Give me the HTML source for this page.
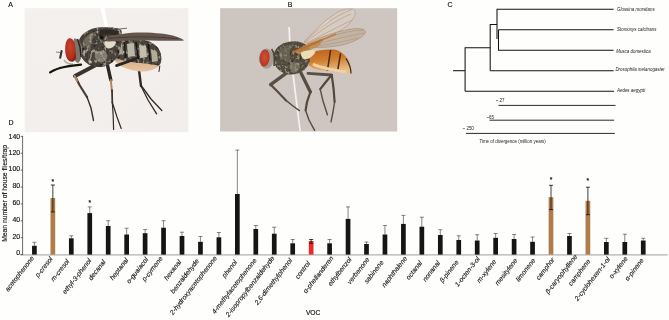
<!DOCTYPE html>
<html><head><meta charset="utf-8"><title>Figure</title>
<style>
html,body{margin:0;padding:0;background:#fefefd;}
body{width:669px;height:320px;overflow:hidden;position:relative;font-family:"Liberation Sans", sans-serif;}
</style></head><body>
<svg width="669" height="320" viewBox="0 0 669 320" style="position:absolute;left:0;top:0;font-family:'Liberation Sans',sans-serif">
<defs>
<filter id="b1" x="-10%" y="-10%" width="120%" height="120%"><feGaussianBlur stdDeviation="0.55"/></filter>
<filter id="b2" x="-10%" y="-10%" width="120%" height="120%"><feGaussianBlur stdDeviation="0.9"/></filter>
<filter id="b3" x="-10%" y="-10%" width="120%" height="120%"><feGaussianBlur stdDeviation="0.3"/></filter>
<clipPath id="cA"><rect x="24.7" y="8.2" width="163.6" height="124"/></clipPath>
<clipPath id="cB"><rect x="220.1" y="8.2" width="177.1" height="123.3"/></clipPath>
<linearGradient id="gA" x1="0" y1="0" x2="1" y2="1"><stop offset="0" stop-color="#f3f0ee"/><stop offset="1" stop-color="#f1eeec"/></linearGradient>
<linearGradient id="gB" x1="0" y1="0" x2="1" y2="0"><stop offset="0" stop-color="#cdc5c0"/><stop offset="1" stop-color="#cfc6c2"/></linearGradient>
<linearGradient id="gAbdA" x1="0" y1="0" x2="0" y2="1"><stop offset="0" stop-color="#3b3832"/><stop offset="0.55" stop-color="#6d675c"/><stop offset="0.68" stop-color="#d9b48e"/><stop offset="1" stop-color="#e7c39f"/></linearGradient>
<linearGradient id="gAbdB" x1="0" y1="0" x2="0.25" y2="1"><stop offset="0" stop-color="#b9601f"/><stop offset="0.5" stop-color="#d07f2f"/><stop offset="1" stop-color="#e9c088"/></linearGradient>
<radialGradient id="gEyeA" cx="0.45" cy="0.4" r="0.7"><stop offset="0" stop-color="#c8432d"/><stop offset="0.65" stop-color="#b2301e"/><stop offset="1" stop-color="#741a11"/></radialGradient>
<radialGradient id="gEyeB" cx="0.5" cy="0.45" r="0.7"><stop offset="0" stop-color="#cf5336"/><stop offset="0.7" stop-color="#b83823"/><stop offset="1" stop-color="#842617"/></radialGradient>
<filter id="texA" x="-5%" y="-5%" width="110%" height="110%">
 <feTurbulence type="fractalNoise" baseFrequency="0.28 0.22" numOctaves="2" seed="7" result="n"/>
 <feColorMatrix in="n" type="matrix" values="0 0 0 0 0  0 0 0 0 0  0 0 0 0 0  3.6 0 0 0 -1.95" result="a"/>
 <feFlood flood-color="#c4bdac" result="f"/>
 <feComposite in="f" in2="a" operator="in" result="sp"/>
 <feComposite in="sp" in2="SourceAlpha" operator="in" result="sp2"/>
 <feColorMatrix in="n" type="matrix" values="0 0 0 0 0  0 0 0 0 0  0 0 0 0 0  0 -3.6 0 0 1.6" result="a2"/>
 <feFlood flood-color="#1a1714" result="f2"/>
 <feComposite in="f2" in2="a2" operator="in" result="dk"/>
 <feComposite in="dk" in2="SourceAlpha" operator="in" result="dk2"/>
 <feMerge><feMergeNode in="SourceGraphic"/><feMergeNode in="sp2"/><feMergeNode in="dk2"/></feMerge>
</filter>
<filter id="texB" x="-5%" y="-5%" width="110%" height="110%">
 <feTurbulence type="fractalNoise" baseFrequency="0.4 0.35" numOctaves="2" seed="11" result="n"/>
 <feColorMatrix in="n" type="matrix" values="0 0 0 0 0  0 0 0 0 0  0 0 0 0 0  3.4 0 0 0 -1.85" result="a"/>
 <feFlood flood-color="#aaa38c" result="f"/>
 <feComposite in="f" in2="a" operator="in" result="sp"/>
 <feComposite in="sp" in2="SourceAlpha" operator="in" result="sp2"/>
 <feColorMatrix in="n" type="matrix" values="0 0 0 0 0  0 0 0 0 0  0 0 0 0 0  0 -3.4 0 0 1.5" result="a2"/>
 <feFlood flood-color="#2a261e" result="f2"/>
 <feComposite in="f2" in2="a2" operator="in" result="dk"/>
 <feComposite in="dk" in2="SourceAlpha" operator="in" result="dk2"/>
 <feMerge><feMergeNode in="SourceGraphic"/><feMergeNode in="sp2"/><feMergeNode in="dk2"/></feMerge>
</filter>
</defs>
<!-- ============ PHOTO A ============ -->
<rect x="24.7" y="8.2" width="163.6" height="124" fill="url(#gA)"/>
<g clip-path="url(#cA)">
 <!-- pin -->
 <path d="M100.6 8L104.4 8L108.3 27L104.8 27Z" fill="#ffffff" filter="url(#b3)"/>
 <g filter="url(#b1)">
 <!-- legs A -->
 <g fill="none" stroke-linecap="round" stroke-linejoin="round">
  <!-- front leg -->
  <path d="M95 65.5L75 76" stroke="#3a332d" stroke-width="4"/>
  <path d="M75 76L79.5 85L87 97" stroke="#4a3c30" stroke-width="2.2"/>
  <path d="M74.6 76L77 81" stroke="#b98760" stroke-width="2"/>
  <path d="M87 97L91 108L93.5 120.5" stroke="#3a302a" stroke-width="1.4"/>
  <!-- middle leg -->
  <path d="M107 63L110.8 80" stroke="#2c2723" stroke-width="3.4"/>
  <path d="M110.8 80L112 92" stroke="#b8845a" stroke-width="2"/>
  <path d="M112 90L112.3 103" stroke="#3a302a" stroke-width="1.7"/>
  <path d="M112.3 102L113.2 116L113.6 129.5" stroke="#332b26" stroke-width="1.2"/>
  <path d="M112.5 103L117 117L121.2 128.5" stroke="#332b26" stroke-width="1.2"/>
  <!-- hind leg -->
  <path d="M137.5 60L139.5 74L141 86" stroke="#2f2925" stroke-width="2.4"/>
  <path d="M141 86L148 100L156.6 113.8" stroke="#332b26" stroke-width="1.3"/>
  <path d="M141.5 86L151 99L161.8 110.5" stroke="#332b26" stroke-width="1.3"/>
  <path d="M159.8 66L159 71.5" stroke="#3a302a" stroke-width="1.1"/>
 </g>
 <!-- abdomen -->
 <path d="M114 40C125 38 146 39 152 43C158.5 46.5 162 53 161.2 61C160.5 66 157 68.5 150 70.6C142 72.5 133 71 124 67.5C117 65 113 60 112 52Z" fill="url(#gAbdA)"/>
 <g filter="url(#texA)"><path d="M114 40C125 38 146 39 152 43C158.5 46.5 162 53 161.2 61C160.9 63 160 64.6 158.6 65.6C150 64 140 63 131 62C124 61 117 59 112.4 56L112 52Z" fill="#4a453e"/></g>
 <!-- abdomen pale patches -->
 <path d="M127 44L134 43L135 56L128 57Z" fill="#bdb7a8"/>
 <path d="M139 45L146 46L147 57L140 58Z" fill="#c4bdac"/>
 <path d="M151 49L157 52L158 61L152 62Z" fill="#b3ab98"/>
 <path d="M116 44L122 43L123 54L117 55Z" fill="#a8a294"/>
 <path d="M136 42L138.2 59" stroke="#15130f" stroke-width="1.5" fill="none"/>
 <path d="M148.5 44L150 61" stroke="#15130f" stroke-width="1.4" fill="none"/>
 <path d="M124.5 42L125.5 58" stroke="#1c1915" stroke-width="1.4" fill="none"/>
 <path d="M116.5 65.6L136 58.8" stroke="#2a2521" stroke-width="2.8" stroke-linecap="round" fill="none"/>
 <!-- thorax -->
 <g filter="url(#texA)"><path d="M79 40C82 33 90 28.4 98 27.6C107 26.8 118 27.5 121 30C123 33 122 42 120 50C118 58 113 64 104 66.5C95 68.5 86 65 82 58C78.5 52 77.5 45 79 40Z" fill="#48423a"/></g>
 <path d="M83 41C86 36 91 32.5 96 31.5C93 37 90 44 90.5 51C87 49 84 45 83 41Z" fill="#8d877a" fill-opacity="0.55"/>
 <path d="M95 53C98.5 50 104 50.5 107 54C108.5 57.5 105.5 62 101 62.5C97 62 93.5 57.5 95 53Z" fill="#aaa395" fill-opacity="0.6"/>
 <path d="M104.5 41.5C108 40 114 40.5 116 42C115.5 46 112 48.5 108 48.5C105.5 47.5 104 45 104.5 41.5Z" fill="#e2dccb"/>
 <path d="M100 30C106 29 114 29.5 119 31L118 36C112 34 105 34 99 36Z" fill="#2e2a25"/>
 <ellipse cx="101.5" cy="37.5" rx="2.2" ry="2.2" fill="#191613"/>
 <!-- wing -->
 <path d="M106 37.5C115 34.5 130 32.4 143 32.6C155 32.8 168 34 176 36.4C180 37.6 183 39 184 40.4C178 40.9 160 40.6 143 40.4C128 40.3 114 41 106.5 41.5Z" fill="#65574d"/>
 <path d="M108 38.6C125 36.5 150 36.2 178 38.6" stroke="#3e342d" stroke-width="0.8" fill="none"/>
 <path d="M110 30L127 28.2" stroke="#3b342f" stroke-width="0.7" fill="none"/>
 <!-- head -->
 <path d="M74 38.5C78 38 81 42 82 49C82.5 55 81 61 78 63C75 62 73 58 73 50Z" fill="#7c756b"/>
 <path d="M77.5 39L80 47L81 57" stroke="#27231f" stroke-width="1.4" fill="none"/>
 <!-- eye -->
 <path d="M68.5 38.6C72 37 75 41 75.2 47C75.4 51 76.2 54 76 57.5C75.8 60.5 73.4 62.2 70.5 61.6C67 60.6 65 55 65.2 49C65.3 44 66.3 40 68.5 38.6Z" fill="url(#gEyeA)"/>
 <!-- antenna & face -->
 <path d="M61.6 51L60.2 57.8" stroke="#3a342f" stroke-width="2.1" stroke-linecap="round" fill="none"/>
 <path d="M56 52L61 52.6" stroke="#5a524a" stroke-width="0.7" fill="none"/>
 <path d="M64 60C66 63 69 64.5 73 64" stroke="#b7afa4" stroke-width="1.6" fill="none"/>
 <!-- proboscis -->
 <path d="M81 64.6C74 65.4 66 66.2 60 68C55 69.6 52 71 50.2 72.4" stroke="#15120f" stroke-width="2.3" stroke-linecap="round" fill="none"/>
 </g>
</g>
<!-- ============ PHOTO B ============ -->
<rect x="220.1" y="8.2" width="177.1" height="123.3" fill="url(#gB)"/>
<g clip-path="url(#cB)">
 <!-- pin -->
 <path d="M288.3 27L290 27L290.6 42L288.9 42Z" fill="#f7f4f0" filter="url(#b3)"/>
 <path d="M292 73L293.8 73L301 131.5L299.3 131.5Z" fill="#f4f1ee" filter="url(#b3)"/>
 <g filter="url(#b1)">
 <!-- wings -->
 <path d="M304 42C312 33 326 19 338 12C345 8.6 351 8 354 9.6C356.6 12 355 17 350 23C343 30 328 38 310 44Z" fill="#d7cdc5" fill-opacity="0.8" stroke="#b79676" stroke-width="0.6"/>
 <path d="M308 43.5C322 36 342 29.6 356 28.6C362 28.4 366 30 365.6 32.4C364 37 354 42 342 45C330 47.6 316 48 308 47Z" fill="#bfb1a4" fill-opacity="0.9" stroke="#a88a6c" stroke-width="0.6"/>
 <path d="M318 30C322 26 326 22.6 329 20.4" stroke="#f2ece6" stroke-width="1" fill="none"/>
 <g fill="none" stroke="#b98d5e" stroke-width="0.55">
  <path d="M304 42C316 31 332 17 352 9.4"/>
  <path d="M305 42.6C320 31 336 20 351 14"/>
  <path d="M307 43C322 35 340 26 352 20"/>
  <path d="M308 44.6C326 37 346 30.6 364 30"/>
  <path d="M310 45.6C328 41 348 36 364 33"/>
  <path d="M312 46.6C328 45 346 41 358 38"/>
 </g>
 <path d="M294 52.4C306 47 322 40 336 34" stroke="#c47a35" stroke-width="1.5" fill="none"/>
 <!-- legs B -->
 <g fill="none" stroke-linecap="round" stroke-linejoin="round">
  <path d="M287 72.6L270.6 84.6" stroke="#5a5046" stroke-width="3.4"/>
  <path d="M270.6 84.6L277 91L286 100.4" stroke="#5a4c40" stroke-width="2.2"/>
  <path d="M286 100.4L293 106L299.4 110.6" stroke="#55483c" stroke-width="1.4"/>
  <path d="M301 73L310.4 92" stroke="#574d43" stroke-width="3.3"/>
  <path d="M310.4 92L307 102L305.6 110.4" stroke="#54473b" stroke-width="2.2"/>
  <path d="M305.6 110.4L309 120L314.6 130.4" stroke="#55483c" stroke-width="1.4"/>
  <path d="M308 73.4L331.6 75" stroke="#5a5046" stroke-width="2.9"/>
  <path d="M331.6 75L325 83L320.2 89.2" stroke="#54473b" stroke-width="2.2"/>
  <path d="M320.2 89.2L323 101L327.4 114.8" stroke="#5a4c40" stroke-width="1.4"/>
  <path d="M331.8 75.4L333.6 89L334.6 102" stroke="#54473b" stroke-width="2.2"/>
  <path d="M334.6 102L333 112L331 121.8" stroke="#5a4c40" stroke-width="1.4"/>
 </g>
 <!-- abdomen -->
 <path d="M309 53C316 50.4 327 49 334 49.6C341 50.6 346.4 56 349.6 63C351.4 67 352 71 351 73.8C346 73.6 338 72 330 71.4C321 70.8 313 69 309 65.4C306.6 62 307 56.4 309 53Z" fill="url(#gAbdB)"/>
 <path d="M330.6 50L327.4 70.6" stroke="#4a2a14" stroke-width="1.5" fill="none"/>
 <path d="M340.6 53.4L337.4 72" stroke="#4a2a14" stroke-width="1.5" fill="none"/>
 <path d="M346 58.4C349 63 351 69 351 73.6" stroke="#3e2a1a" stroke-width="1.2" fill="none"/>
 <path d="M313 64C320 68 334 70 346 72" stroke="#efd3a6" stroke-width="2.6" fill="none"/>
 <!-- thorax -->
 <g filter="url(#texB)"><path d="M274 53C276 46.6 283 42 291 41.4C298 41 305 43 308.6 47C311 51 311 58 308.6 64C306 70 299 74.4 291 74.6C283.6 74.6 277 70 274.6 64C273 60 273 56 274 53Z" fill="#524c3f"/></g>
 <path d="M278 52C281 47 287 44.4 293 44.6C290 50 289 57 290.6 63C285 62 279.6 58 278 52Z" fill="#7f796a" fill-opacity="0.45"/>
 <path d="M290 64C293 61 298 62 299.6 65C300.4 69 297 73 293 73C290 71.6 289 67 290 64Z" fill="#9a9482" fill-opacity="0.55"/>
 <path d="M295 51C300 47.4 308 43.6 316 41.6C320 41.4 322 43 320 45C314 48.6 306 52 299 54.4Z" fill="#c08a4e" fill-opacity="0.85"/>
 <path d="M300.8 52.8C305 50.2 311.6 49.4 315.6 50.6C315 55 310.4 58.8 304.6 59.6C302 58 300.6 55.4 300.8 52.8Z" fill="#eddcb4"/>
 <path d="M292.6 52.6C300 49.4 310 45 322 40" stroke="#bd6f2c" stroke-width="1.9" fill="none" stroke-linecap="round"/>
 <!-- head -->
 <ellipse cx="266.4" cy="58.6" rx="7.4" ry="10.2" fill="#a49c92"/>
 <path d="M271.6 49C274 52 275 58 274 66" stroke="#4a443c" stroke-width="1.6" fill="none"/>
 <ellipse cx="264.6" cy="58" rx="5" ry="8.6" fill="url(#gEyeB)" transform="rotate(6 264.6 58)"/>
 <path d="M259.4 63C260 67 263 69.6 267 70" stroke="#cfc8be" stroke-width="1.5" fill="none"/>
 </g>
</g>

<g opacity="0.995">
<path d="M20.2 254.85H667.8" stroke="#b2b2b2" stroke-width="1.1" fill="none"/>
<g stroke="#2a2a2a" stroke-width="0.7" fill="none">
<path d="M22.6 136.0V254.9"/>
<path d="M20.700000000000003 254.60H22.6"/>
<path d="M20.700000000000003 237.71H22.6"/>
<path d="M20.700000000000003 220.82H22.6"/>
<path d="M20.700000000000003 203.93H22.6"/>
<path d="M20.700000000000003 187.04H22.6"/>
<path d="M20.700000000000003 170.15H22.6"/>
<path d="M20.700000000000003 153.26H22.6"/>
<path d="M20.700000000000003 136.37H22.6"/>
</g>
<g font-size="6.9" fill="#111" stroke="#111" stroke-width="0.15" text-anchor="end">
<text x="20.1" y="254.75">0</text>
<text x="20.1" y="238.95">20</text>
<text x="20.1" y="222.05">40</text>
<text x="20.1" y="204.95">60</text>
<text x="20.1" y="188.05">80</text>
<text x="20.1" y="171.15">100</text>
<text x="20.1" y="155.15">120</text>
<text x="20.1" y="138.95">140</text>
</g>
<text transform="translate(6.5 193.4) rotate(-90)" font-size="6.75" fill="#111" stroke="#111" stroke-width="0.15" text-anchor="middle">Mean number of house flies/trap</text>
<path d="M34.40 245.80V242.30M32.40 242.30H36.40" stroke="#3a3a3a" stroke-width="0.62" fill="none"/>
<rect x="32.05" y="245.80" width="4.7" height="8.80" fill="#141414"/>
<rect x="50.50" y="198.10" width="4.7" height="56.50" fill="#b07b46"/>
<path d="M52.85 211.90V185.00M50.85 185.00H54.85M50.85 211.90H54.85" stroke="#0c0c0c" stroke-width="0.8" fill="none"/>
<text x="52.85" y="184.30" font-size="6.6" text-anchor="middle" fill="#111" stroke="#111" stroke-width="0.2">*</text>
<path d="M71.30 238.30V235.80M69.30 235.80H73.30" stroke="#3a3a3a" stroke-width="0.62" fill="none"/>
<rect x="68.95" y="238.30" width="4.7" height="16.30" fill="#141414"/>
<path d="M89.75 213.10V206.90M87.75 206.90H91.75" stroke="#3a3a3a" stroke-width="0.62" fill="none"/>
<rect x="87.40" y="213.10" width="4.7" height="41.50" fill="#141414"/>
<text x="89.75" y="205.00" font-size="6.6" text-anchor="middle" fill="#111" stroke="#111" stroke-width="0.2">*</text>
<path d="M108.20 226.00V220.70M106.20 220.70H110.20" stroke="#3a3a3a" stroke-width="0.62" fill="none"/>
<rect x="105.85" y="226.00" width="4.7" height="28.60" fill="#141414"/>
<path d="M126.65 234.50V228.20M124.65 228.20H128.65" stroke="#3a3a3a" stroke-width="0.62" fill="none"/>
<rect x="124.30" y="234.50" width="4.7" height="20.10" fill="#141414"/>
<path d="M145.10 233.20V229.50M143.10 229.50H147.10" stroke="#3a3a3a" stroke-width="0.62" fill="none"/>
<rect x="142.75" y="233.20" width="4.7" height="21.40" fill="#141414"/>
<path d="M163.55 227.70V220.70M161.55 220.70H165.55" stroke="#3a3a3a" stroke-width="0.62" fill="none"/>
<rect x="161.20" y="227.70" width="4.7" height="26.90" fill="#141414"/>
<path d="M182.00 236.00V232.20M180.00 232.20H184.00" stroke="#3a3a3a" stroke-width="0.62" fill="none"/>
<rect x="179.65" y="236.00" width="4.7" height="18.60" fill="#141414"/>
<path d="M200.45 241.80V236.50M198.45 236.50H202.45" stroke="#3a3a3a" stroke-width="0.62" fill="none"/>
<rect x="198.10" y="241.80" width="4.7" height="12.80" fill="#141414"/>
<path d="M218.90 237.30V232.50M216.90 232.50H220.90" stroke="#3a3a3a" stroke-width="0.62" fill="none"/>
<rect x="216.55" y="237.30" width="4.7" height="17.30" fill="#141414"/>
<path d="M237.35 194.00V150.10M235.35 150.10H239.35" stroke="#3a3a3a" stroke-width="0.62" fill="none"/>
<rect x="235.00" y="194.00" width="4.7" height="60.60" fill="#141414"/>
<path d="M255.80 229.00V225.50M253.80 225.50H257.80" stroke="#3a3a3a" stroke-width="0.62" fill="none"/>
<rect x="253.45" y="229.00" width="4.7" height="25.60" fill="#141414"/>
<path d="M274.25 233.70V227.20M272.25 227.20H276.25" stroke="#3a3a3a" stroke-width="0.62" fill="none"/>
<rect x="271.90" y="233.70" width="4.7" height="20.90" fill="#141414"/>
<path d="M292.70 243.30V239.50M290.70 239.50H294.70" stroke="#3a3a3a" stroke-width="0.62" fill="none"/>
<rect x="290.35" y="243.30" width="4.7" height="11.30" fill="#141414"/>
<rect x="308.80" y="241.00" width="4.7" height="13.60" fill="#e82a22"/>
<path d="M311.15 243.30V239.50M309.15 239.50H313.15M309.15 243.30H313.15" stroke="#0c0c0c" stroke-width="0.8" fill="none"/>
<path d="M329.60 243.30V239.50M327.60 239.50H331.60" stroke="#3a3a3a" stroke-width="0.62" fill="none"/>
<rect x="327.25" y="243.30" width="4.7" height="11.30" fill="#141414"/>
<path d="M348.05 218.90V206.90M346.05 206.90H350.05" stroke="#3a3a3a" stroke-width="0.62" fill="none"/>
<rect x="345.70" y="218.90" width="4.7" height="35.70" fill="#141414"/>
<path d="M366.50 244.00V242.00M364.50 242.00H368.50" stroke="#3a3a3a" stroke-width="0.62" fill="none"/>
<rect x="364.15" y="244.00" width="4.7" height="10.60" fill="#141414"/>
<path d="M384.95 234.50V225.50M382.95 225.50H386.95" stroke="#3a3a3a" stroke-width="0.62" fill="none"/>
<rect x="382.60" y="234.50" width="4.7" height="20.10" fill="#141414"/>
<path d="M403.40 223.90V215.40M401.40 215.40H405.40" stroke="#3a3a3a" stroke-width="0.62" fill="none"/>
<rect x="401.05" y="223.90" width="4.7" height="30.70" fill="#141414"/>
<path d="M421.85 226.70V217.20M419.85 217.20H423.85" stroke="#3a3a3a" stroke-width="0.62" fill="none"/>
<rect x="419.50" y="226.70" width="4.7" height="27.90" fill="#141414"/>
<path d="M440.30 235.00V229.70M438.30 229.70H442.30" stroke="#3a3a3a" stroke-width="0.62" fill="none"/>
<rect x="437.95" y="235.00" width="4.7" height="19.60" fill="#141414"/>
<path d="M458.75 240.00V235.80M456.75 235.80H460.75" stroke="#3a3a3a" stroke-width="0.62" fill="none"/>
<rect x="456.40" y="240.00" width="4.7" height="14.60" fill="#141414"/>
<path d="M477.20 240.50V234.70M475.20 234.70H479.20" stroke="#3a3a3a" stroke-width="0.62" fill="none"/>
<rect x="474.85" y="240.50" width="4.7" height="14.10" fill="#141414"/>
<path d="M495.65 237.80V233.50M493.65 233.50H497.65" stroke="#3a3a3a" stroke-width="0.62" fill="none"/>
<rect x="493.30" y="237.80" width="4.7" height="16.80" fill="#141414"/>
<path d="M514.10 239.00V234.50M512.10 234.50H516.10" stroke="#3a3a3a" stroke-width="0.62" fill="none"/>
<rect x="511.75" y="239.00" width="4.7" height="15.60" fill="#141414"/>
<path d="M532.55 241.80V237.00M530.55 237.00H534.55" stroke="#3a3a3a" stroke-width="0.62" fill="none"/>
<rect x="530.20" y="241.80" width="4.7" height="12.80" fill="#141414"/>
<rect x="548.65" y="197.20" width="4.7" height="57.40" fill="#b07b46"/>
<path d="M551.00 209.60V185.30M549.00 185.30H553.00M549.00 209.60H553.00" stroke="#0c0c0c" stroke-width="0.8" fill="none"/>
<text x="551.00" y="181.90" font-size="6.6" text-anchor="middle" fill="#111" stroke="#111" stroke-width="0.2">*</text>
<path d="M569.45 236.00V233.50M567.45 233.50H571.45" stroke="#3a3a3a" stroke-width="0.62" fill="none"/>
<rect x="567.10" y="236.00" width="4.7" height="18.60" fill="#141414"/>
<rect x="585.55" y="200.80" width="4.7" height="53.80" fill="#b07b46"/>
<path d="M587.90 214.70V187.20M585.90 187.20H589.90M585.90 214.70H589.90" stroke="#0c0c0c" stroke-width="0.8" fill="none"/>
<text x="587.90" y="183.40" font-size="6.6" text-anchor="middle" fill="#111" stroke="#111" stroke-width="0.2">*</text>
<path d="M606.35 242.00V238.30M604.35 238.30H608.35" stroke="#3a3a3a" stroke-width="0.62" fill="none"/>
<rect x="604.00" y="242.00" width="4.7" height="12.60" fill="#141414"/>
<path d="M624.80 242.00V234.20M622.80 234.20H626.80" stroke="#3a3a3a" stroke-width="0.62" fill="none"/>
<rect x="622.45" y="242.00" width="4.7" height="12.60" fill="#141414"/>
<path d="M643.25 240.50V238.30M641.25 238.30H645.25" stroke="#3a3a3a" stroke-width="0.62" fill="none"/>
<rect x="640.90" y="240.50" width="4.7" height="14.10" fill="#141414"/>
<g font-size="6.72" font-style="italic" fill="#111" stroke="#111" stroke-width="0.12" text-anchor="end">
<text transform="translate(34.40 258.40) rotate(-52)">acetophenone</text>
<text transform="translate(53.05 259.00) rotate(-52)">p-cresol</text>
<text transform="translate(69.70 261.50) rotate(-52)">m-cresol</text>
<text transform="translate(91.75 260.90) rotate(-52)">ethyl-3-phenol</text>
<text transform="translate(106.00 262.10) rotate(-52)">decanal</text>
<text transform="translate(128.75 260.30) rotate(-52)">heptanal</text>
<text transform="translate(148.60 259.60) rotate(-52)">o-guaiacol</text>
<text transform="translate(163.15 258.60) rotate(-52)">p-cymene</text>
<text transform="translate(181.70 262.10) rotate(-52)">hexanal</text>
<text transform="translate(199.35 261.10) rotate(-52)">benzaldehyde</text>
<text transform="translate(217.40 258.40) rotate(-52)">2-hydroxyacetophenone</text>
<text transform="translate(237.55 262.40) rotate(-52)">phenol</text>
<text transform="translate(257.00 260.50) rotate(-52)">4-methylacetophenone</text>
<text transform="translate(274.85 258.40) rotate(-52)">2-isopropylbenzaldehyde</text>
<text transform="translate(292.60 260.60) rotate(-52)">2,6-dimethylphenol</text>
<text transform="translate(310.55 263.60) rotate(-52)">control</text>
<text transform="translate(333.90 258.40) rotate(-52)">α-phellanderen</text>
<text transform="translate(351.95 259.60) rotate(-52)">ethylbenzol</text>
<text transform="translate(369.90 259.60) rotate(-52)">verbenone</text>
<text transform="translate(383.95 262.60) rotate(-52)">sabinene</text>
<text transform="translate(407.50 258.60) rotate(-52)">naphthalene</text>
<text transform="translate(422.45 263.10) rotate(-52)">octanal</text>
<text transform="translate(440.40 263.10) rotate(-52)">nonanal</text>
<text transform="translate(458.95 262.40) rotate(-52)">β-pinene</text>
<text transform="translate(480.20 259.00) rotate(-52)">1-octen-3-ol</text>
<text transform="translate(496.65 261.80) rotate(-52)">m-xylene</text>
<text transform="translate(517.80 260.50) rotate(-52)">mesitylene</text>
<text transform="translate(535.75 260.50) rotate(-52)">limonene</text>
<text transform="translate(555.00 259.90) rotate(-52)">camphor</text>
<text transform="translate(577.75 256.70) rotate(-52)">β-caryophyllene</text>
<text transform="translate(590.70 261.40) rotate(-52)">camphene</text>
<text transform="translate(610.35 259.40) rotate(-52)">2-cyclohexen-1-ol</text>
<text transform="translate(628.00 258.90) rotate(-52)">o-xylene</text>
<text transform="translate(644.15 260.50) rotate(-52)">α-pinene</text>
</g>
<text x="313.1" y="314.6" font-size="6.65" fill="#111" stroke="#111" stroke-width="0.15" text-anchor="middle">VOC</text>
<g font-size="7" fill="#111" stroke="#111" stroke-width="0.15" text-anchor="middle">
<text x="10.55" y="6.5">A</text><text x="290.1" y="6.6">B</text><text x="450.1" y="6.6">C</text><text x="11" y="125.4">D</text>
</g>
<g stroke="#111" stroke-width="1.05" fill="none" stroke-linecap="butt">
<path d="M453 70.7H465.1"/>
<path d="M465.1 91.3V47.7H490.2"/>
<path d="M465.1 91.3H614.1"/>
<path d="M490.2 70.7V24.4H497"/>
<path d="M490.2 70.7H613.6"/>
<path d="M497 39V9.2H613.6"/>
<path d="M498.5 29.7H613.6"/>
<path d="M498.5 29.7V50.2H613.6"/>
</g>
<g stroke="#111" stroke-width="0.9" fill="none">
<path d="M498.5 105.4H615.5"/><path d="M489.5 120.2H614.1"/><path d="M465.9 133.4H614.9"/>
</g>
<g font-size="4.45" font-style="italic" fill="#1a1a1a">
<text x="617" y="10.6">Glossina morsitans</text>
<text x="617" y="31.1">Stomoxys calcitrans</text>
<text x="616.2" y="52.8">Musca domestica</text>
<text x="615.4" y="71.4">Drosophila melanogaster</text>
<text x="617" y="91.9">Aedes aegypti</text>
</g>
<g font-size="4.45" fill="#1a1a1a">
<text x="495.8" y="101.6">~ 27</text>
<text x="486.5" y="118.8">~65</text>
<text x="462.6" y="130.1">~ 250</text>
<text x="479.4" y="142.6">Time of divergence (million years)</text>
</g>
</g>
</svg>
</body></html>
